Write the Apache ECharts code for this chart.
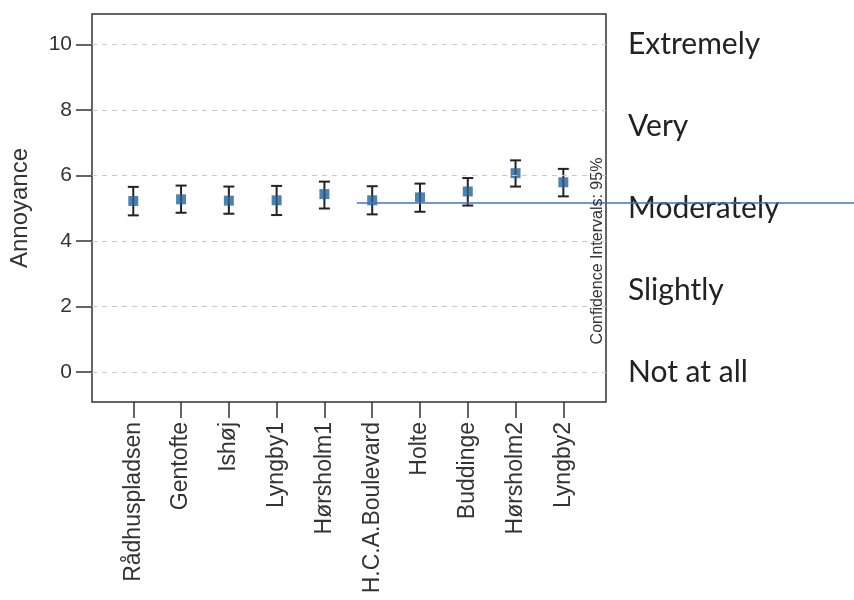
<!DOCTYPE html>
<html>
<head>
<meta charset="utf-8">
<script src="https://cdn.jsdelivr.net/npm/echarts@6/dist/echarts.min.js"></script>
<style>html,body{margin:0;padding:0;background:#fff}#c{width:854px;height:600px}</style>
</head>
<body>
<div id="c"></div>
<script>
const categories = ['Rådhuspladsen','Gentofte','Ishøj','Lyngby1','Hørsholm1','H.C.A.Boulevard','Holte','Buddinge','Hørsholm2','Lyngby2'];
const means = [5.22,5.27,5.23,5.24,5.43,5.24,5.33,5.51,6.07,5.79];
const lower = [4.78,4.86,4.83,4.79,4.99,4.81,4.89,5.08,5.66,5.36];
const upper = [5.65,5.69,5.66,5.68,5.81,5.67,5.75,5.92,6.46,6.20];
const yTicks = [0,2,4,6,8,10];
const scaleLabels = ['Not at all','Slightly','Moderately','Very','Extremely'];
const scaleValues = [0,2.5,5,7.5,10];
const ciText = 'Confidence Intervals: 95%';
const annotStart = [4.68, 5.16];

const xIdx = categories.map((c,i)=>i);
const chart = echarts.init(document.getElementById('c'), null, {renderer:'canvas'});
const font = 'Liberation Sans, Arial, sans-serif';

const option = {
  animation:false,
  backgroundColor:'#fff',
  grid:{left:92,right:248,top:14,bottom:198,containLabel:false,outerBoundsMode:'none',
    show:true,borderColor:'#333',borderWidth:1.5,backgroundColor:'transparent'},
  xAxis:{
    type:'value', min:-0.864, max:9.893,
    axisLine:{show:false,onZero:false},
    splitLine:{show:false},
    axisTick:{show:true,customValues:xIdx,length:16,lineStyle:{color:'#333',width:1.5}},
    axisLabel:{customValues:xIdx,rotate:90,margin:20,fontFamily:font,fontSize:23,color:'#333',
      formatter:v=>categories[Math.round(v)]}
  },
  yAxis:[{
    type:'value', min:-0.92, max:10.93,
    name:'Annoyance', nameLocation:'middle', nameRotate:90, nameGap:60,
    nameTextStyle:{fontFamily:font,fontSize:24,color:'#333'},
    axisLine:{show:false,onZero:false},
    splitLine:{show:false},
    axisTick:{show:true,customValues:yTicks,length:16,lineStyle:{color:'#333',width:1.5}},
    axisLabel:{customValues:yTicks,margin:20,fontFamily:font,fontSize:21,color:'#333'}
  },{
    type:'value', min:-0.92, max:10.93, position:'right',
    axisLine:{show:false,onZero:false}, axisTick:{show:false}, splitLine:{show:false},
    axisLabel:{customValues:scaleValues,margin:22,fontFamily:'Lato, Open Sans, sans-serif',fontSize:30,color:'#222',
      formatter:v=>scaleLabels[scaleValues.indexOf(v)]}
  }],
  series:[{
    type:'custom',
    renderItem:(params,api)=>{
      const x = api.value(0);
      const lo = api.coord([x, api.value(1)]);
      const hi = api.coord([x, api.value(2)]);
      const cw = 5.5;
      const st = {stroke:'#222',lineWidth:2};
      return {type:'group',children:[
        {type:'line',shape:{x1:lo[0],y1:lo[1],x2:hi[0],y2:hi[1]},style:st},
        {type:'line',shape:{x1:lo[0]-cw,y1:lo[1],x2:lo[0]+cw,y2:lo[1]},style:st},
        {type:'line',shape:{x1:hi[0]-cw,y1:hi[1],x2:hi[0]+cw,y2:hi[1]},style:st}
      ]};
    },
    data:xIdx.map(i=>[i,lower[i],upper[i]]),
    z:2
  },{
    type:'scatter',
    symbol:'rect', symbolSize:10,
    itemStyle:{color:'#24639a'},
    data:xIdx.map(i=>[i,means[i]]),
    z:3,
    markLine:{
      silent:true, symbol:'none', label:{show:false},
      lineStyle:{type:[5,5],color:'#c8c8c8',width:1},
      data:yTicks.map(v=>({yAxis:v}))
    }
  }]
};
chart.setOption(option);

const p0 = chart.convertToPixel({gridIndex:0}, annotStart);
chart.setOption({
  graphic:[
    {type:'line',shape:{x1:p0[0],y1:p0[1],x2:854,y2:p0[1]},style:{stroke:'#4472c4',lineWidth:1.5},z:10},
    {type:'text',x:598,y:251,rotation:Math.PI/2,
     style:{text:ciText,fontFamily:font,fontSize:16,fill:'#333',align:'center',verticalAlign:'middle'},z:10}
  ]
});
</script>
</body>
</html>
